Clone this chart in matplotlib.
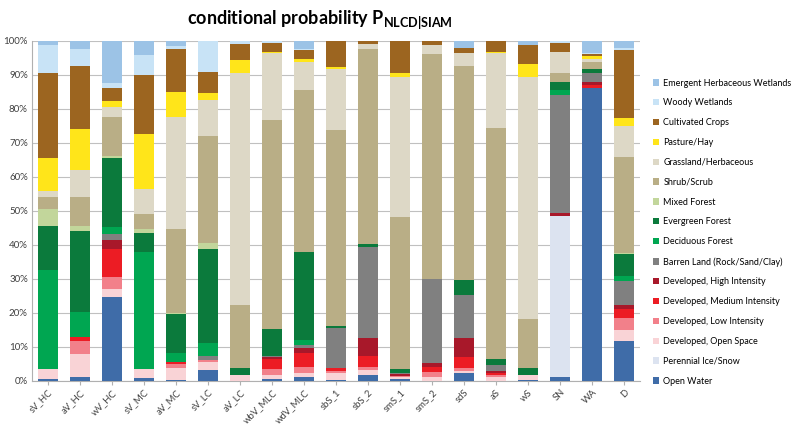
import numpy as np
import matplotlib.pyplot as plt

plt.rcParams['font.family'] = ['Lato', 'DejaVu Sans']
plt.rcParams['mathtext.fontset'] = 'custom'
plt.rcParams['mathtext.bf'] = 'Lato:bold'

categories = ['sV_HC', 'aV_HC', 'wV_HC', 'sV_MC', 'aV_MC', 'sV_LC', 'aV_LC', 'wbV_MLC',
              'wdV_MLC', 'sbS_1', 'sbS_2', 'smS_1', 'smS_2', 'sdS', 'aS', 'wS', 'SN', 'WA', 'D']

classes = ['Open Water', 'Perennial Ice/Snow', 'Developed, Open Space', 'Developed, Low Intensity',
           'Developed, Medium Intensity', 'Developed, High Intensity', 'Barren Land (Rock/Sand/Clay)',
           'Deciduous Forest', 'Evergreen Forest', 'Mixed Forest', 'Shrub/Scrub',
           'Grassland/Herbaceous', 'Pasture/Hay', 'Cultivated Crops', 'Woody Wetlands',
           'Emergent Herbaceous Wetlands']

colors = ['#3f6ca8', '#dce3f0', '#f9d3d6', '#f2808a', '#ec1c24', '#a8182a', '#808080',
          '#00a651', '#0b7a3c', '#c2d69b', '#b9ae86', '#ddd8c6', '#ffe51a', '#9c6520',
          '#c8e3f6', '#9cc3e6']

# percent per class, one list per category (order as in classes)
sV_HC   = [0.4, 0, 3.0, 0.2, 0, 0, 0, 29.0, 13.0, 5.0, 3.5, 1.8, 9.8, 25.2, 8.1, 1.3]
aV_HC   = [1.2, 0, 6.7, 3.9, 1.2, 0, 0, 7.1, 24.0, 1.3, 8.6, 8.0, 12.0, 18.6, 4.9, 2.5]
wV_HC   = [24.7, 0, 2.2, 3.7, 8.3, 2.6, 1.8, 1.8, 20.3, 0.7, 11.4, 3.1, 1.7, 3.7, 1.5, 12.5]
sV_MC   = [0.7, 0, 2.7, 0, 0, 0, 0, 34.6, 5.6, 1.2, 4.2, 7.6, 16.2, 17.2, 5.9, 4.2]
aV_MC   = [0.3, 0, 3.5, 1.2, 0.5, 0, 0, 2.6, 11.4, 0.5, 24.5, 32.8, 7.5, 12.7, 0.8, 1.5]
sV_LC   = [3.3, 0, 2.3, 0.5, 0, 0, 1.2, 3.9, 27.5, 1.8, 31.6, 10.8, 1.8, 6.2, 9.3, 0]
aV_LC   = [0, 0, 1.7, 0, 0, 0, 0, 0, 2.0, 0, 18.6, 68.1, 3.9, 4.7, 1.0, 0]
wbV_MLC = [0.4, 0, 1.3, 1.7, 2.9, 0.8, 0.2, 0, 7.8, 0, 61.6, 19.6, 0.5, 2.6, 0.6, 0]
wdV_MLC = [1.2, 0, 1.2, 1.8, 4.1, 1.3, 1.0, 1.3, 25.9, 0, 47.8, 8.3, 0.7, 2.7, 0.3, 2.4]
sbS_1   = [0.3, 0, 2.0, 0.6, 1.0, 0, 11.7, 0, 0.6, 0, 57.5, 17.8, 0.8, 7.6, 0, 0]
sbS_2   = [1.7, 0, 1.5, 0.8, 3.3, 5.2, 27.0, 0, 0.8, 0, 57.5, 1.5, 0, 0.8, 0, 0]
smS_1   = [0.4, 0, 0.8, 0.3, 0, 0.5, 0.3, 0, 1.2, 0, 44.8, 41.5, 1.0, 9.6, 0, 0]
smS_2   = [0, 0, 1.2, 1.5, 1.5, 1.0, 24.7, 0, 0, 0, 66.3, 2.6, 0, 1.3, 0, 0]
sdS     = [2.2, 0, 0.8, 0.7, 3.4, 5.4, 12.7, 0, 4.6, 0, 62.8, 3.9, 0, 1.6, 0, 2.0]
aS      = [0, 0, 1.2, 0.5, 0.7, 0.6, 1.7, 0, 1.7, 0, 67.9, 22.0, 0.5, 3.2, 0, 0]
wS      = [0.3, 0, 1.3, 0, 0, 0, 0, 0, 2.3, 0, 14.4, 71.1, 3.7, 5.6, 0, 1.3]
SN      = [1.0, 47.5, 0, 0, 0, 0.8, 34.8, 1.5, 2.5, 0, 2.6, 6.2, 0, 2.6, 0.6, 0]
WA      = [86.3, 0, 0, 0, 0.8, 0.9, 2.6, 0, 1.3, 0, 2.0, 1.0, 0.7, 0.6, 0.5, 3.5]
D       = [11.8, 0, 3.1, 3.7, 2.6, 1.3, 6.9, 1.4, 6.7, 0.3, 28.2, 9.3, 2.3, 20.0, 0.5, 2.2]

data = np.array([sV_HC, aV_HC, wV_HC, sV_MC, aV_MC, sV_LC, aV_LC, wbV_MLC, wdV_MLC, sbS_1,
                 sbS_2, smS_1, smS_2, sdS, aS, wS, SN, WA, D]).T
data = data / data.sum(axis=0) * 100

fig = plt.figure(figsize=(8, 4.25), dpi=100)
ax = fig.add_axes([0.04, 0.104, 0.76, 0.8])

x = np.arange(len(categories))
bottom = np.zeros(len(categories))
for i, cls in enumerate(classes):
    ax.bar(x, data[i], 0.62, bottom=bottom, color=colors[i], label=cls, zorder=3)
    bottom += data[i]

ax.set_ylim(0, 100)
ax.set_xlim(-0.5, len(categories) - 0.5)
ax.set_yticks(range(0, 101, 10))
ax.set_yticklabels([f'{v}%' for v in range(0, 101, 10)], fontsize=7, color='#404040')
ax.set_xticks(x)
ax.set_xticklabels(categories, rotation=45, ha='right', rotation_mode='anchor',
                   fontsize=6.8, color='#404040')
ax.tick_params(axis='y', length=0, pad=3)
ax.tick_params(axis='x', length=3, color='#b0b0b0', pad=2)
ax.grid(axis='y', color='#c0c0c0', linewidth=0.8, zorder=0)
for s in ['top', 'right']:
    ax.spines[s].set_visible(False)
for s in ['left', 'bottom']:
    ax.spines[s].set_color('#b0b0b0')

fig.text(0.40, 0.955, r'conditional probability P$_{\mathbf{NLCD|SIAM}}$',
         ha='center', va='center', fontsize=13, fontweight='bold')

h, l = ax.get_legend_handles_labels()
fig.legend(h[::-1], l[::-1], loc='center left', bbox_to_anchor=(0.81, 0.454),
           frameon=False, fontsize=6.5, handlelength=0.7, handleheight=0.7,
           handletextpad=0.5, labelspacing=1.2, borderpad=0)

fig.savefig('out.png', dpi=100)
